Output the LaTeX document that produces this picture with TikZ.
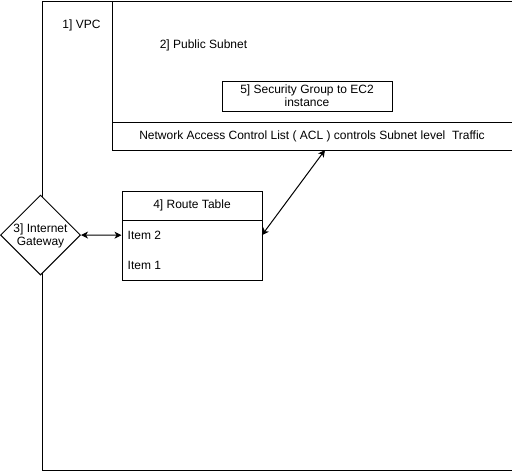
\documentclass[tikz,border=0pt]{standalone}
\usepackage{fontspec}
\setmainfont{Liberation Sans}
\usetikzlibrary{shapes.geometric,arrows.meta}
\begin{document}
\begin{tikzpicture}[x=1pt,y=-1pt,
  every node/.style={font=\fontsize{12}{14}\selectfont},
  box/.style={draw,line width=1pt,rectangle,inner sep=0pt,anchor=north west},
  plain/.style={inner sep=0pt},
  dbl/.style={line width=1pt,{Stealth[length=7pt,width=7pt,inset=2pt]}-{Stealth[length=7pt,width=7pt,inset=2pt]}}
]
\useasboundingbox (0,0) rectangle (512,471);
% VPC
\node[box,minimum width=470pt,minimum height=469.5pt] (vpc) at (41.5,0.5) {};
\node[plain] (vpclbl) at (81.5,25) {1] VPC};
% Public subnet
\node[box,minimum width=400pt,minimum height=149.5pt] (subnet) at (111.5,0.5) {};
\node[plain] (sublbl) at (203.5,45) {2] Public Subnet};
% Security group
\node[box,minimum width=170pt,minimum height=30pt,align=center,font=\fontsize{12}{14}\selectfont] (sg) at (221.5,80.5) {5] Security Group to EC2\\[-1pt]instance};
% ACL
\node[box,minimum width=400pt,minimum height=28pt] (acl) at (111.5,122) {Network Access Control List ( ACL ) controls Subnet level~~Traffic};
\coordinate (aclpt) at (325,150);
% Internet gateway
\node[draw,line width=1pt,diamond,aspect=1,minimum size=80pt,inner sep=0pt,fill=white] (igw) at (40.5,235) {};
\node[plain,align=center] (igwlbl) at (40.5,236) {3] Internet\\[-1pt]Gateway};
% Route table
\node[box,minimum width=140pt,minimum height=89.5pt] (rt) at (121.5,190.5) {};
\node[box,minimum width=140pt,minimum height=29.5pt] (rthead) at (121.5,190.5) {4] Route Table};
\node[plain,anchor=north west,minimum width=140pt,minimum height=30pt] (item2) at (121.5,220) {};
\node[plain,anchor=north west,minimum width=140pt,minimum height=30pt] (item1) at (121.5,250) {};
\node[anchor=west,inner xsep=6pt,inner ysep=0pt] (item2lbl) at (item2.west) {Item 2};
\node[anchor=west,inner xsep=6pt,inner ysep=0pt] (item1lbl) at (item1.west) {Item 1};
% connectors
\draw[dbl] (igw.east) -- (item2.west);
\draw[dbl] (item2.east) -- (aclpt);
\end{tikzpicture}
\end{document}
